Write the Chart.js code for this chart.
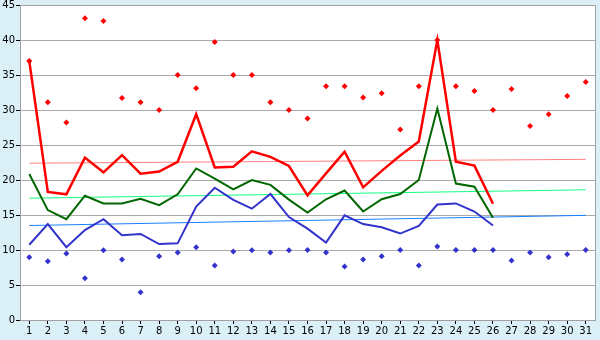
<!DOCTYPE html>
<html>
<head>
<meta charset="utf-8">
<script src="https://cdn.jsdelivr.net/npm/chart.js@4/dist/chart.umd.min.js"></script>
<style>
  html, body { margin: 0; padding: 0; background: #daeff6; }
  #chart { display: block; }
</style>
</head>
<body>
<canvas id="chart" width="600" height="340"></canvas>
<script>
// tick labels (days)
const days = ['1','2','3','4','5','6','7','8','9','10','11','12','13','14','15','16',
              '17','18','19','20','21','22','23','24','25','26','27','28','29','30','31'];

// daily extremes (markers)
const maxPoints = [37, 31.1, 28.2, 43.1, 42.7, 31.7, 31.1, 30, 35, 33.1, 39.7, 35, 35, 31.1, 30, 28.8,
                   33.4, 33.4, 31.8, 32.4, 27.2, 33.4, 40, 33.4, 32.7, 30, 33, 27.7, 29.4, 32, 34];
const minPoints = [8.95, 8.4, 9.5, 5.95, 9.95, 8.65, 3.95, 9.1, 9.65, 10.4, 7.8, 9.8, 9.95, 9.65, 9.95, 10,
                   9.65, 7.65, 8.65, 9.1, 10, 7.8, 10.5, 10, 10, 10, 8.5, 9.65, 8.95, 9.4, 10];

// daily lines (until day 26)
const highLine = [37, 18.3, 17.95, 23.2, 21.1, 23.55, 20.9, 21.2, 22.6, 29.4, 21.8, 21.9, 24.1, 23.3, 22.0, 17.8,
                  20.95, 24.05, 18.95, 21.3, 23.5, 25.5, 40, 22.6, 22.05, 16.6];
const meanLine = [20.85, 15.7, 14.4, 17.75, 16.65, 16.65, 17.3, 16.4, 17.95, 21.65, 20.2, 18.65, 20.0, 19.3, 17.2, 15.35,
                  17.25, 18.5, 15.5, 17.25, 18.0, 20.0, 30.2, 19.5, 19.05, 14.6];
const lowLine  = [10.75, 13.7, 10.4, 12.85, 14.4, 12.1, 12.3, 10.85, 10.95, 16.2, 18.9, 17.15, 15.9, 18.0, 14.7, 13.05,
                  11.05, 14.95, 13.7, 13.25, 12.35, 13.45, 16.5, 16.65, 15.5, 13.5];

// thin trend lines: value on day 1 and day 31
const highTrend = [22.4, 22.95];
const meanTrend = [17.4, 18.6];
const lowTrend  = [13.5, 14.95];

function trendData(ends) {
    const d = days.map(() => null);
    d[0] = ends[0];
    d[days.length - 1] = ends[1];
    return d;
}

const FONT = { family: '"DejaVu Sans", Verdana, sans-serif', size: 10 };

const plotBackground = {
    id: 'plotBackground',
    beforeDraw(chart) {
        const { ctx, chartArea: a } = chart;
        ctx.save();
        ctx.fillStyle = '#daeff6';
        ctx.fillRect(0, 0, chart.width, chart.height);
        ctx.fillStyle = '#ffffff';
        ctx.fillRect(a.left, a.top, a.right - a.left, a.bottom - a.top);
        ctx.restore();
    },
    beforeDatasetsDraw(chart) {
        const { ctx, chartArea: a } = chart;
        ctx.save();
        ctx.strokeStyle = '#a0a0a0';
        ctx.lineWidth = 1;
        ctx.beginPath();
        ctx.moveTo(a.left, a.top + 0.5);
        ctx.lineTo(a.right + 0.5, a.top + 0.5);
        ctx.lineTo(a.right + 0.5, a.bottom);
        ctx.stroke();
        ctx.restore();
    }
};

function lineSet(data, color, width, order) {
    return {
        data: data,
        borderColor: color,
        backgroundColor: color,
        borderWidth: width,
        pointRadius: 0,
        tension: 0,
        spanGaps: true,
        order: order
    };
}

function pointSet(data, color) {
    return {
        data: data,
        showLine: false,
        pointStyle: 'rectRot',
        pointRadius: 3,
        pointBorderWidth: 0,
        pointBackgroundColor: color,
        borderColor: color,
        order: 0
    };
}

new Chart(document.getElementById('chart').getContext('2d'), {
    type: 'line',
    data: {
        labels: days,
        datasets: [
            lineSet(trendData(highTrend), '#ff8080', 1, 5),
            lineSet(trendData(meanTrend), '#11ff80', 1, 5),
            lineSet(trendData(lowTrend), '#1a80ff', 1, 5),
            lineSet(lowLine, '#3333cc', 2, 3),
            lineSet(meanLine, '#006600', 2, 2),
            lineSet(highLine, '#ff0000', 2.5, 1),
            pointSet(maxPoints, '#ff0000'),
            pointSet(minPoints, '#3333cc')
        ]
    },
    options: {
        responsive: false,
        animation: false,
        layout: { padding: { top: 5, right: 5, left: 0, bottom: 0 } },
        plugins: {
            legend: { display: false },
            tooltip: { enabled: false }
        },
        scales: {
            x: {
                offset: true,
                grid: {
                    display: true,
                    drawOnChartArea: false,
                    offset: false,
                    tickLength: 4,
                    color: '#000000'
                },
                border: { color: '#a0a0a0' },
                ticks: {
                    color: '#000000',
                    font: FONT,
                    padding: 1,
                    autoSkip: false,
                    maxRotation: 0
                },
                afterFit: function(scale) {
                    scale.height = 20;
                    scale.paddingLeft = 0;
                    scale.paddingRight = 0;
                }
            },
            y: {
                min: 0,
                max: 45,
                grid: {
                    color: '#aaaaaa',
                    tickColor: '#000000',
                    tickLength: 4
                },
                border: { color: '#a0a0a0' },
                ticks: {
                    stepSize: 5,
                    color: '#000000',
                    font: FONT,
                    padding: 1
                },
                afterFit: function(scale) {
                    scale.width = 20;
                    scale.paddingTop = 0;
                    scale.paddingBottom = 0;
                }
            }
        }
    },
    plugins: [plotBackground]
});
</script>
</body>
</html>
